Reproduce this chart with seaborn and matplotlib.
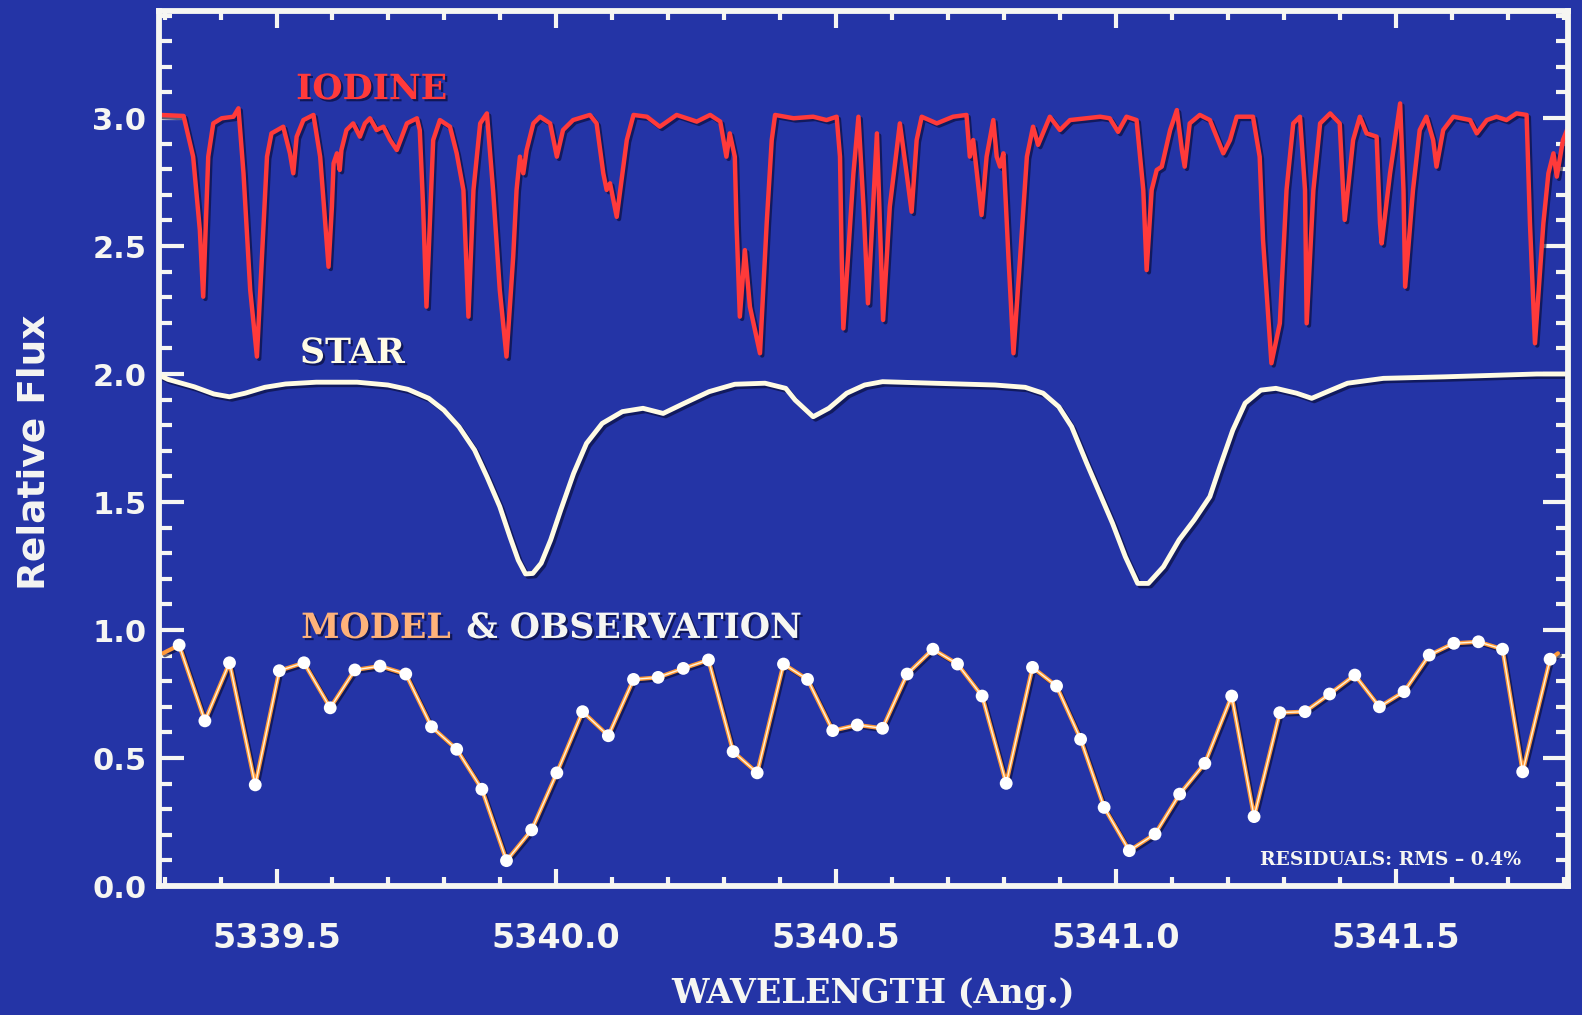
import numpy as np
import pandas as pd
import matplotlib
matplotlib.use("Agg")
import matplotlib.pyplot as plt
import matplotlib.patheffects as pe
from matplotlib.ticker import MultipleLocator, FormatStrFormatter
import seaborn as sns

# ---------------------------------------------------------------------------
# Spectra (wavelength in Angstrom, relative flux with vertical offsets)
# ---------------------------------------------------------------------------
iodine_wave = [
    5339.292, 5339.334, 5339.351, 5339.363, 5339.369, 5339.378, 5339.387, 5339.402,
    5339.423, 5339.432, 5339.441, 5339.453, 5339.465, 5339.474, 5339.483, 5339.491,
    5339.512, 5339.524, 5339.530, 5339.536, 5339.548, 5339.566, 5339.578, 5339.587,
    5339.593, 5339.599, 5339.602, 5339.608, 5339.613, 5339.616, 5339.625, 5339.637,
    5339.649, 5339.658, 5339.667, 5339.679, 5339.691, 5339.703, 5339.715, 5339.733,
    5339.751, 5339.756, 5339.762, 5339.768, 5339.774, 5339.780, 5339.792, 5339.810,
    5339.822, 5339.834, 5339.840, 5339.843, 5339.852, 5339.864, 5339.876, 5339.887,
    5339.899, 5339.911, 5339.923, 5339.929, 5339.935, 5339.941, 5339.947, 5339.959,
    5339.971, 5339.989, 5340.001, 5340.012, 5340.030, 5340.060, 5340.072, 5340.084,
    5340.090, 5340.096, 5340.108, 5340.126, 5340.138, 5340.162, 5340.185, 5340.215,
    5340.251, 5340.275, 5340.293, 5340.304, 5340.310, 5340.319, 5340.322, 5340.328,
    5340.337, 5340.346, 5340.364, 5340.376, 5340.385, 5340.391, 5340.424, 5340.459,
    5340.483, 5340.501, 5340.507, 5340.510, 5340.513, 5340.531, 5340.540, 5340.549,
    5340.557, 5340.573, 5340.584, 5340.596, 5340.614, 5340.626, 5340.635, 5340.644,
    5340.653, 5340.680, 5340.709, 5340.733, 5340.739, 5340.745, 5340.760, 5340.769,
    5340.781, 5340.787, 5340.793, 5340.799, 5340.808, 5340.817, 5340.829, 5340.841,
    5340.852, 5340.861, 5340.882, 5340.900, 5340.918, 5340.972, 5340.989, 5341.004,
    5341.019, 5341.037, 5341.049, 5341.055, 5341.064, 5341.073, 5341.082, 5341.097,
    5341.109, 5341.118, 5341.123, 5341.132, 5341.150, 5341.168, 5341.192, 5341.204,
    5341.216, 5341.245, 5341.257, 5341.263, 5341.278, 5341.293, 5341.305, 5341.317,
    5341.329, 5341.338, 5341.341, 5341.353, 5341.365, 5341.383, 5341.400, 5341.406,
    5341.409, 5341.424, 5341.436, 5341.448, 5341.466, 5341.472, 5341.475, 5341.490,
    5341.508, 5341.514, 5341.517, 5341.531, 5341.543, 5341.555, 5341.567, 5341.573,
    5341.585, 5341.603, 5341.633, 5341.645, 5341.663, 5341.680, 5341.698, 5341.716,
    5341.734, 5341.740, 5341.749, 5341.764, 5341.773, 5341.782, 5341.788, 5341.799,
    5341.811,
]
iodine_flux = [
    3.012, 3.008, 2.849, 2.562, 2.302, 2.849, 2.979, 2.999,
    3.005, 3.038, 2.784, 2.328, 2.068, 2.458, 2.849, 2.940,
    2.966, 2.862, 2.784, 2.927, 2.992, 3.012, 2.849, 2.589,
    2.419, 2.654, 2.823, 2.862, 2.797, 2.875, 2.953, 2.979,
    2.927, 2.979, 2.999, 2.953, 2.966, 2.914, 2.875, 2.979,
    2.999, 2.953, 2.654, 2.263, 2.589, 2.914, 2.992, 2.966,
    2.862, 2.719, 2.393, 2.224, 2.719, 2.979, 3.018, 2.719,
    2.328, 2.068, 2.458, 2.719, 2.849, 2.784, 2.875, 2.979,
    3.005, 2.979, 2.849, 2.953, 2.992, 3.012, 2.979, 2.784,
    2.719, 2.745, 2.614, 2.914, 3.012, 3.005, 2.966, 3.012,
    2.986, 3.012, 2.986, 2.849, 2.940, 2.849, 2.589, 2.224,
    2.484, 2.263, 2.081, 2.589, 2.914, 3.012, 2.999, 3.005,
    2.992, 3.005, 2.849, 2.458, 2.178, 2.784, 3.005, 2.654,
    2.276, 2.940, 2.211, 2.654, 2.979, 2.784, 2.634, 2.914,
    3.005, 2.979, 3.005, 3.012, 2.849, 2.914, 2.621, 2.849,
    2.992, 2.849, 2.810, 2.862, 2.458, 2.081, 2.458, 2.849,
    2.966, 2.895, 3.005, 2.953, 2.992, 3.005, 2.999, 2.946,
    3.005, 2.992, 2.719, 2.406, 2.719, 2.797, 2.810, 2.953,
    3.031, 2.875, 2.810, 2.979, 3.012, 2.992, 2.862, 2.914,
    3.005, 3.005, 2.849, 2.523, 2.042, 2.198, 2.719, 2.979,
    3.005, 2.719, 2.198, 2.719, 2.979, 3.018, 2.979, 2.719,
    2.602, 2.914, 3.005, 2.940, 2.927, 2.589, 2.510, 2.784,
    3.057, 2.719, 2.341, 2.719, 2.953, 3.005, 2.914, 2.810,
    2.953, 3.005, 2.992, 2.940, 2.992, 3.005, 2.992, 3.018,
    3.012, 2.589, 2.120, 2.589, 2.784, 2.862, 2.771, 2.914,
    2.979,
]

star_wave = [
    5339.294, 5339.306, 5339.353, 5339.388, 5339.416, 5339.444, 5339.479, 5339.516,
    5339.571, 5339.644, 5339.699, 5339.735, 5339.772, 5339.799, 5339.826, 5339.854,
    5339.876, 5339.899, 5339.917, 5339.932, 5339.945, 5339.958, 5339.973, 5339.990,
    5340.008, 5340.031, 5340.054, 5340.082, 5340.118, 5340.155, 5340.191, 5340.228,
    5340.273, 5340.319, 5340.373, 5340.410, 5340.427, 5340.459, 5340.487, 5340.519,
    5340.551, 5340.583, 5340.674, 5340.784, 5340.838, 5340.870, 5340.898, 5340.921,
    5340.948, 5340.971, 5340.994, 5341.017, 5341.039, 5341.058, 5341.085, 5341.113,
    5341.140, 5341.168, 5341.186, 5341.209, 5341.231, 5341.259, 5341.286, 5341.323,
    5341.350, 5341.378, 5341.414, 5341.478, 5341.588, 5341.752, 5341.807,
]
star_flux = [
    1.992, 1.979, 1.950, 1.922, 1.911, 1.925, 1.948, 1.961,
    1.968, 1.968, 1.957, 1.940, 1.905, 1.859, 1.794, 1.703,
    1.599, 1.482, 1.365, 1.273, 1.219, 1.221, 1.261, 1.352,
    1.469, 1.612, 1.729, 1.807, 1.853, 1.866, 1.846, 1.885,
    1.931, 1.960, 1.964, 1.944, 1.898, 1.833, 1.866, 1.925,
    1.957, 1.970, 1.964, 1.957, 1.948, 1.925, 1.872, 1.794,
    1.651, 1.534, 1.417, 1.286, 1.182, 1.182, 1.247, 1.352,
    1.430, 1.521, 1.638, 1.781, 1.886, 1.937, 1.944, 1.925,
    1.905, 1.931, 1.964, 1.983, 1.989, 2.000, 2.000,
]

obs_wave = [
    5339.326, 5339.372, 5339.416, 5339.462, 5339.505, 5339.549, 5339.596, 5339.640,
    5339.685, 5339.731, 5339.777, 5339.822, 5339.867, 5339.911, 5339.956, 5340.001,
    5340.047, 5340.093, 5340.138, 5340.182, 5340.227, 5340.272, 5340.316, 5340.359,
    5340.406, 5340.449, 5340.494, 5340.538, 5340.583, 5340.627, 5340.673, 5340.717,
    5340.761, 5340.804, 5340.851, 5340.894, 5340.937, 5340.979, 5341.024, 5341.070,
    5341.114, 5341.159, 5341.207, 5341.247, 5341.293, 5341.338, 5341.382, 5341.427,
    5341.471, 5341.515, 5341.560, 5341.604, 5341.648, 5341.691, 5341.727, 5341.776,
]
obs_flux = [
    0.941, 0.645, 0.872, 0.395, 0.841, 0.872, 0.696, 0.844,
    0.859, 0.828, 0.622, 0.534, 0.378, 0.099, 0.219, 0.442,
    0.681, 0.587, 0.807, 0.815, 0.850, 0.883, 0.525, 0.442,
    0.867, 0.807, 0.607, 0.629, 0.616, 0.828, 0.925, 0.867,
    0.742, 0.401, 0.854, 0.781, 0.573, 0.307, 0.138, 0.203,
    0.359, 0.479, 0.742, 0.271, 0.677, 0.681, 0.750, 0.824,
    0.700, 0.759, 0.902, 0.948, 0.954, 0.925, 0.446, 0.886,
]

# model curve runs through the observations and out to the frame edges
model_edge_wave = [5339.297, 5341.790]
model_edge_flux = [0.909, 0.909]
model_wave = [model_edge_wave[0]] + obs_wave + [model_edge_wave[1]]
model_flux = [model_edge_flux[0]] + obs_flux + [model_edge_flux[1]]

x_ticks = [5339.5, 5340.0, 5340.5, 5341.0, 5341.5]
y_ticks = [0.0, 0.5, 1.0, 1.5, 2.0, 2.5, 3.0]

# ---------------------------------------------------------------------------
# Styling
# ---------------------------------------------------------------------------
BG = "#2434a6"
WHITE = "#f6f6f2"
RED = "#ff3a3a"
CREAM = "#fffbe4"
ORANGE = "#ff9a3a"

sns.set_theme(style="ticks")
plt.rcParams["font.family"] = ["DejaVu Sans"]

fig = plt.figure(figsize=(15.82, 10.15), dpi=100, facecolor=BG)
ax = fig.add_axes([159 / 1582, 129 / 1015, 1409 / 1582, 875 / 1015])
ax.set_facecolor(BG)

def line_shadow(off=1.6):
    return [pe.SimpleLineShadow(offset=(off, -off), shadow_color="#080c38", alpha=0.65),
            pe.Normal()]

def text_shadow(off=1.6):
    return [pe.withSimplePatchShadow(offset=(off, -off), shadow_rgbFace="#080c38", alpha=0.7)]

iodine_df = pd.DataFrame({"wave": iodine_wave, "flux": iodine_flux})
star_df = pd.DataFrame({"wave": star_wave, "flux": star_flux})
model_df = pd.DataFrame({"wave": model_wave, "flux": model_flux})
obs_df = pd.DataFrame({"wave": obs_wave, "flux": obs_flux})

sns.lineplot(data=iodine_df, x="wave", y="flux", ax=ax, color=RED, lw=3.2,
             sort=False, estimator=None)
ax.lines[-1].set_solid_joinstyle("round")
ax.lines[-1].set_path_effects(line_shadow())

sns.lineplot(data=star_df, x="wave", y="flux", ax=ax, color=CREAM, lw=3.5,
             sort=False, estimator=None)
ax.lines[-1].set_solid_joinstyle("round")
ax.lines[-1].set_path_effects(line_shadow(1.8))

sns.lineplot(data=model_df, x="wave", y="flux", ax=ax, color=ORANGE, lw=3.0,
             sort=False, estimator=None)
ax.lines[-1].set_path_effects(line_shadow(1.4))
sns.lineplot(data=obs_df, x="wave", y="flux", ax=ax, color="#fff4dc", lw=1.0,
             sort=False, estimator=None)
sns.scatterplot(data=obs_df, x="wave", y="flux", ax=ax, s=85, color="white",
                edgecolor="none", linewidth=0, zorder=5)

# axes frame and ticks
ax.set_xlim(5339.290, 5341.808)
ax.set_ylim(0.0, 3.418)
ax.set_xticks(x_ticks)
ax.set_yticks(y_ticks)
ax.xaxis.set_minor_locator(MultipleLocator(0.1))
ax.yaxis.set_minor_locator(MultipleLocator(0.1))
ax.xaxis.set_major_formatter(FormatStrFormatter("%.1f"))
ax.yaxis.set_major_formatter(FormatStrFormatter("%.1f"))
for s in ax.spines.values():
    s.set_visible(True)
    s.set_color(WHITE)
    s.set_linewidth(4.2)
ax.tick_params(which="both", direction="in", color=WHITE, width=3.0,
               top=True, right=True, labeltop=False, labelright=False)
ax.tick_params(axis="x", which="major", length=12, pad=26, labelsize=24,
               labelcolor=WHITE)
ax.tick_params(axis="x", which="minor", length=6.5)
ax.tick_params(axis="y", which="major", length=18, pad=9, labelsize=22,
               labelcolor=WHITE)
ax.tick_params(axis="y", which="minor", length=9)
for lab in ax.get_xticklabels() + ax.get_yticklabels():
    lab.set_fontweight("bold")
ax.set_xlabel("")
ax.set_ylabel("")

# curve labels
serif = dict(fontfamily="DejaVu Serif", fontweight="bold")
ax.text(5339.535, 3.113, "IODINE", color=RED, fontsize=25, ha="left", va="center",
        path_effects=text_shadow(), **serif)
ax.text(5339.542, 2.082, "STAR", color=CREAM, fontsize=25, ha="left", va="center",
        path_effects=text_shadow(), **serif)
model_txt = ax.text(5339.544, 1.008, "MODEL", color="#ffb27a", fontsize=25,
                    ha="left", va="center", path_effects=text_shadow(), **serif)
ax.annotate("& OBSERVATION", xy=(1, 0.5), xycoords=model_txt, xytext=(11, 0),
            textcoords="offset points", color=WHITE, fontsize=25, ha="left",
            va="center", path_effects=text_shadow(), **serif)
ax.text(5341.491, 0.10, "RESIDUALS: RMS \u2013 0.4%", color=WHITE, fontsize=13.5,
        ha="center", va="center", **serif)

# axis titles
fig.text(35 / 1582, 1 - 452 / 1015, "Relative Flux", rotation=90, color=WHITE,
         fontsize=27, fontweight="bold", ha="center", va="center")
fig.text(873 / 1582, 1 - 994 / 1015, "WAVELENGTH (Ang.)", color=WHITE, fontsize=24,
         ha="center", va="center", **serif)

fig.savefig("out.png", dpi=100, facecolor=BG)
